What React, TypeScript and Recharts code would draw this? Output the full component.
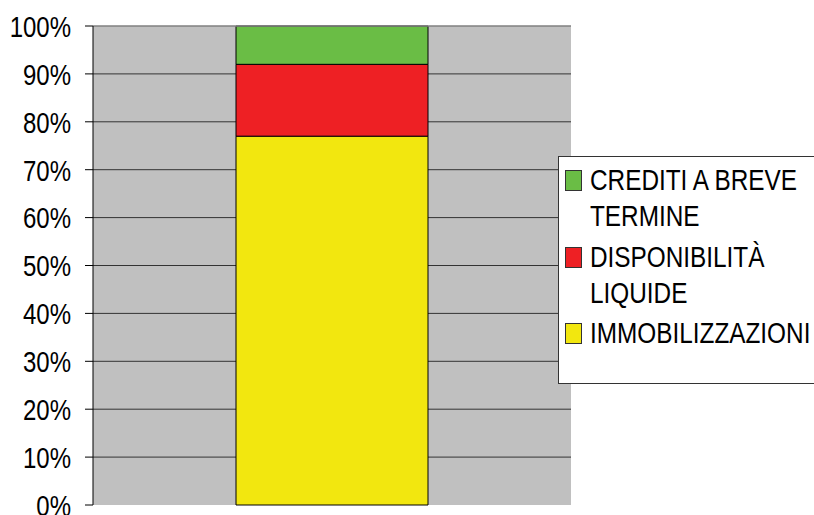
import React from "react";
import {
  BarChart,
  Bar,
  XAxis,
  YAxis,
  CartesianGrid,
  ReferenceLine,
  Legend,
} from "recharts";

const categories = ["Attivo"];
const immobilizzazioni = [77];
const disponibilitaLiquide = [15];
const creditiBreve = [8];
const yTicks = [0, 10, 20, 30, 40, 50, 60, 70, 80, 90, 100];

const seriesDefs = [
  { key: "imm", name: "IMMOBILIZZAZIONI", color: "#F2E70F", values: immobilizzazioni },
  { key: "disp", name: "DISPONIBILITÀ LIQUIDE", color: "#EE2024", values: disponibilitaLiquide },
  { key: "cred", name: "CREDITI A BREVE TERMINE", color: "#6ABD45", values: creditiBreve },
];

const data = categories.map((c, i) => {
  const row: Record<string, any> = { cat: c };
  seriesDefs.forEach((s) => (row[s.key] = s.values[i]));
  return row;
});

const FONT = "'Liberation Sans', Arial, sans-serif";

const YTick = (props: any) => {
  const { x, y, payload } = props;
  return (
    <text
      transform={`translate(${x},${y}) scale(0.8,1)`}
      textAnchor="end"
      dy="0.36em"
      fontSize={30}
      fontFamily={FONT}
      fill="#000"
    >
      {`${payload.value}%`}
    </text>
  );
};

const LegendBox = () => {
  const items = [...seriesDefs].reverse();
  return (
    <div
      style={{
        width: 262,
        height: 228,
        border: "1px solid #333",
        background: "#fff",
        boxSizing: "border-box",
        fontFamily: FONT,
        fontSize: 29.5,
        color: "#000",
        position: "relative",
      }}
    >
      {items.map((s, i) => (
        <div key={s.key} style={{ position: "absolute", left: 6, top: 5 + i * 76.5 }}>
          <div
            style={{
              position: "absolute",
              left: 0,
              top: 8,
              width: 15,
              height: 19,
              background: s.color,
              border: "1px solid #333",
            }}
          />
          <div
            style={{
              position: "absolute",
              left: 25,
              top: 0,
              width: 275,
              lineHeight: "36px",
              transform: "scaleX(0.825)",
              transformOrigin: "0 0",
              whiteSpace: "normal",
            }}
          >
            {s.name}
          </div>
        </div>
      ))}
    </div>
  );
};

export default function App() {
  return (
    <div
      style={{
        position: "absolute",
        left: 0,
        top: 0,
        width: 814,
        height: 515,
        overflow: "hidden",
        background: "#fff",
      }}
    >
      <BarChart
        width={814}
        height={515}
        data={data}
        margin={{ top: 26, right: 243, bottom: 0, left: 0 }}
        barSize={192}
      >
        <CartesianGrid
          vertical={false}
          fill="#C0C0C0"
          fillOpacity={1}
          stroke="#333333"
          horizontalValues={[10, 20, 30, 40, 50, 60, 70, 80, 90]}
        />
        <XAxis dataKey="cat" hide />
        <XAxis
          xAxisId="n"
          type="number"
          domain={[0, 1]}
          ticks={[0, 1]}
          tickFormatter={() => ""}
          height={10}
          tickSize={8}
          axisLine={{ stroke: "#000", strokeWidth: 1.5 }}
          tickLine={{ stroke: "#000" }}
        />
        <YAxis
          type="number"
          domain={[0, 100]}
          ticks={yTicks}
          width={93}
          tickSize={8}
          tickMargin={14}
          interval={0}
          axisLine={{ stroke: "#000" }}
          tickLine={{ stroke: "#000" }}
          tick={<YTick />}
        />
        <YAxis
          yAxisId="r"
          orientation="right"
          type="number"
          domain={[0, 100]}
          width={0}
          tick={false}
          tickLine={false}
          axisLine={{ stroke: "#808080", strokeWidth: 1.5 }}
        />
        <ReferenceLine y={100} stroke="#808080" strokeWidth={1.5} />
        {seriesDefs.map((s) => (
          <Bar
            key={s.key}
            dataKey={s.key}
            name={s.name}
            stackId="a"
            fill={s.color}
            stroke="#000"
            strokeWidth={1}
            isAnimationActive={false}
          />
        ))}
        <Legend
          layout="vertical"
          align="center"
          verticalAlign="middle"
          content={() => <LegendBox />}
          wrapperStyle={{ left: 558, top: 156, width: 262, height: 228 }}
        />
      </BarChart>
    </div>
  );
}
